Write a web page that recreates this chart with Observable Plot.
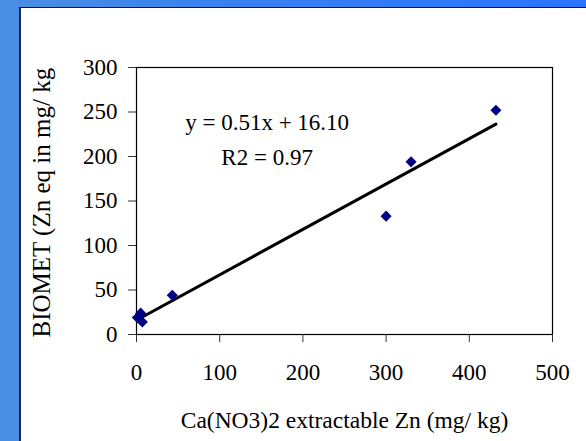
<!DOCTYPE html>
<html><head><meta charset="utf-8">
<script src="https://cdn.jsdelivr.net/npm/d3@7"></script>
<script src="https://cdn.jsdelivr.net/npm/@observablehq/plot@0.6"></script>
<style>
html,body{margin:0;padding:0;}
body{width:586px;height:441px;overflow:hidden;position:relative;background:linear-gradient(90deg,#4a8fe2 0%,#3a82ee 35%,#2a74ff 100%);}
#panel{position:absolute;left:19px;top:7px;width:600px;height:460px;background:#fff;border-top:1.5px solid #111;border-left:2px solid #1a2a50;}
#chart{position:absolute;left:0;top:0;}
</style></head><body>
<div id="panel"></div>
<div id="chart"></div>
<script>
// data
const xValues = [1, 5, 7, 43, 300, 330, 432];
const yValues = [19, 24, 14, 44, 133, 194, 252];
const xTicks = [0, 100, 200, 300, 400, 500];
const yTicks = [0, 50, 100, 150, 200, 250, 300];
const slope = 0.51;
const intercept = 16.10;
const equationLines = ["y = 0.51x + 16.10", "R2 = 0.97"];
const equationX = [157, 157];
const equationY = [238, 199];
const xTitle = "Ca(NO3)2 extractable Zn (mg/ kg)";
const yTitle = "BIOMET (Zn eq in mg/ kg";

const serif = "'Liberation Serif', 'Times New Roman', serif";
const points = xValues.map((x, i) => ({x, y: yValues[i]}));
const [x0, x1] = d3.extent(xValues);
const fit = [x0, x1].map(x => ({x, y: slope * x + intercept}));
const notes = equationLines.map((t, i) => ({t, x: equationX[i], y: equationY[i]}));

const chart = Plot.plot({
  width: 586, height: 441,
  marginLeft: 136, marginRight: 34, marginTop: 67, marginBottom: 107,
  style: {background: "transparent", fontFamily: serif, fontSize: "23px", color: "#000"},
  x: {domain: [0, 500]},
  y: {domain: [0, 300]},
  marks: [
    Plot.frame({stroke: "#000", strokeWidth: 1.2}),
    Plot.axisX(xTicks, {tickSize: 8, tickPadding: 21, stroke: "#333", label: null, fontSize: 23, fontFamily: serif}),
    Plot.axisY(yTicks, {tickSize: 8, tickPadding: 11, stroke: "#333", label: null, fontSize: 23, fontFamily: serif}),
    Plot.line(fit, {x: "x", y: "y", stroke: "#000", strokeWidth: 3}),
    Plot.dot(points, {x: "x", y: "y", symbol: "diamond2", r: 5, fill: "#000080", stroke: "none"}),
    Plot.text(notes, {x: "x", y: "y", text: "t", fontSize: 23, fontFamily: serif, fill: "#000"}),
    Plot.text([xTitle], {frameAnchor: "bottom", dy: 93, fontSize: 23.5, fontFamily: serif, fill: "#000"}),
    Plot.text([yTitle], {frameAnchor: "bottom-left", rotate: -90, textAnchor: "start", dx: -87, dy: 3, fontSize: 25, fontFamily: serif, fill: "#000"})
  ]
});
document.getElementById("chart").appendChild(chart);
</script>
</body></html>
